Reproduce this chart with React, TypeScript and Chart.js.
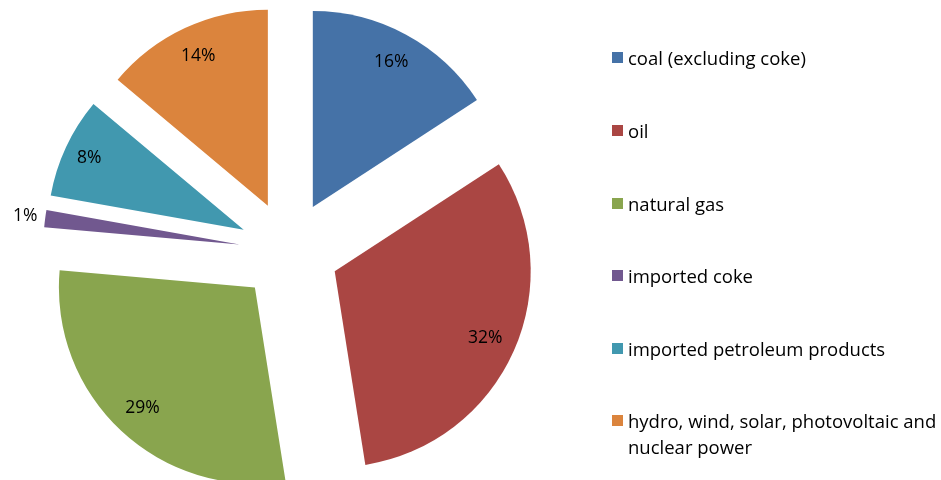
import React, { useEffect, useRef } from "react";
import { Chart, registerables } from "chart.js";

Chart.register(...registerables);

const categories: string[] = [
  "coal (excluding coke)",
  "oil",
  "natural gas",
  "imported coke",
  "imported petroleum products",
  "hydro, wind, solar, photovoltaic and nuclear power",
];
const legendLines: string[][] = [
  ["coal (excluding coke)"],
  ["oil"],
  ["natural gas"],
  ["imported coke"],
  ["imported petroleum products"],
  ["hydro, wind, solar, photovoltaic and", "nuclear power"],
];
const values: number[] = [15.8, 31.7, 28.9, 1.4, 8.3, 13.9];
const percentLabels: string[] = ["16%", "32%", "29%", "1%", "8%", "14%"];
const outsideLabel: boolean[] = [false, false, false, true, false, false];
const labelRadiusFactor: number[] = [0.84, 0.84, 0.84, 0, 0.87, 0.84];
const colors: string[] = ["#4572A7", "#AA4643", "#89A54E", "#71588F", "#4198AF", "#DB843D"];

const FONT = "'Open Sans', sans-serif";
const EXPLODE = 50; // visible displacement of every slice
const RADIUS = 196;

// Chart.js translates an arc by offset/4, enlarges its radius by offset/4 * fix
// (fix = 1 - sin(circumference)) and narrows its angle by that amount / (PI * R).
// Undo the radius growth and the narrowing so each slice keeps its true size.
const equalizeArcs = {
  id: "equalizeArcs",
  afterDatasetsUpdate(chart: any) {
    const meta = chart.getDatasetMeta(0);
    meta.data.forEach((arc: any) => {
      const circ = arc.circumference;
      const fix = 1 - Math.sin(Math.min(Math.PI, circ));
      const radiusOffset = EXPLODE * fix;
      arc.outerRadius = RADIUS - radiusOffset;
      const widen = radiusOffset / (Math.PI * RADIUS);
      arc.startAngle = arc.startAngle - widen / 2;
      arc.endAngle = arc.endAngle + widen / 2;
    });
  },
};

const labelPlugin = {
  id: "pctLabels",
  afterDatasetsDraw(chart: any) {
    const ctx = chart.ctx;
    const meta = chart.getDatasetMeta(0);
    ctx.save();
    ctx.fillStyle = "#000";
    ctx.font = `17.5px ${FONT}`;
    ctx.textAlign = "center";
    ctx.textBaseline = "middle";
    meta.data.forEach((arc: any, i: number) => {
      const mid = (arc.startAngle + arc.endAngle) / 2;
      const dist = outsideLabel[i] ? EXPLODE + RADIUS + 20 : EXPLODE + RADIUS * labelRadiusFactor[i];
      const x = arc.x + Math.cos(mid) * dist;
      const y = arc.y + Math.sin(mid) * dist;
      ctx.fillText(percentLabels[i], x, y);
    });
    ctx.restore();
  },
};

export default function App() {
  const ref = useRef<HTMLCanvasElement | null>(null);
  useEffect(() => {
    if (!ref.current) return;
    const chart = new Chart(ref.current, {
      type: "pie",
      data: {
        labels: categories,
        datasets: [
          {
            data: values,
            backgroundColor: colors,
            borderWidth: 0,
            offset: EXPLODE * 4,
            hoverOffset: 0,
            clip: false as any,
          },
        ],
      },
      options: {
        responsive: false,
        animation: false,
        radius: RADIUS,
        layout: { padding: { left: 0, right: 363, top: 22, bottom: 0 } },
        plugins: {
          legend: { display: false },
          tooltip: { enabled: false },
        },
      } as any,
      plugins: [equalizeArcs, labelPlugin],
    });
    return () => chart.destroy();
  }, []);

  const tops = [58, 131, 204, 276, 349, 421];
  return (
    <div style={{ position: "absolute", left: 0, top: 0, width: 941, height: 480, background: "#fff" }}>
      <canvas ref={ref} width={941} height={480} style={{ position: "absolute", left: 0, top: 0 }} />
      {legendLines.map((lines, i) => (
        <div key={i}>
          <div
            style={{
              position: "absolute",
              left: 612,
              top: tops[i] - 6,
              width: 11,
              height: 11,
              background: colors[i],
            }}
          />
          {lines.map((t, j) => (
            <div
              key={j}
              style={{
                position: "absolute",
                left: 628,
                top: tops[i] - 13 + j * 26,
                height: 26,
                lineHeight: "26px",
                fontFamily: FONT,
                fontSize: 18.5,
                color: "#000",
                whiteSpace: "nowrap",
              }}
            >
              {t}
            </div>
          ))}
        </div>
      ))}
    </div>
  );
}
